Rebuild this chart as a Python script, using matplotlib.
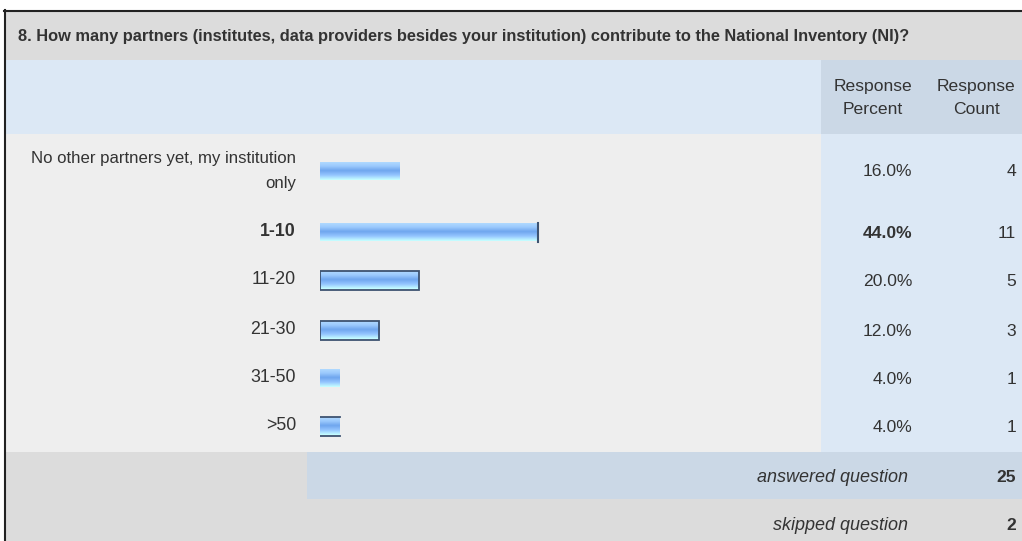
import numpy as np
import matplotlib
matplotlib.use("Agg")
import matplotlib.pyplot as plt
from matplotlib.patches import Rectangle
from matplotlib.colors import LinearSegmentedColormap

plt.rcParams['font.family'] = ['Liberation Sans', 'DejaVu Sans']

title = "8. How many partners (institutes, data providers besides your institution) contribute to the National Inventory (NI)?"
answers = ["No other partners yet, my institution\nonly", "1-10", "11-20", "21-30", "31-50", ">50"]
percents = [16.0, 44.0, 20.0, 12.0, 4.0, 4.0]
counts = [4, 11, 5, 3, 1, 1]
answered = 25
skipped = 2

W, H = 1022, 541
fig = plt.figure(figsize=(W / 100, H / 100), dpi=100)
fig.patch.set_facecolor('white')
ax = fig.add_axes([0, 0, 1, 1])
ax.set_xlim(0, W)
ax.set_ylim(H, 0)
ax.axis('off')

txt = '#333333'
grey = '#dcdcdc'
light = '#dce8f5'
mid = '#cbd8e6'
body = '#eeeeee'

def box(x0, y0, x1, y1, c):
    ax.add_patch(Rectangle((x0, y0), x1 - x0, y1 - y0, facecolor=c, edgecolor='none', zorder=0))

# backgrounds
box(5, 11, W, 60, grey)
box(5, 60, 821, 134, light)
box(821, 60, W, 134, mid)
box(5, 134, 821, 452, body)
box(821, 134, W, 452, light)
box(5, 452, 307, 499, grey)
box(307, 452, W, 499, mid)
box(5, 499, W, H, grey)
ax.plot([4, W], [10.5, 10.5], color='#222222', lw=1.5, zorder=3)
ax.plot([4.5, 4.5], [10, H], color='#222222', lw=1.5, zorder=3)

ax.text(18, 36, title, fontsize=11.8, fontweight='bold', color=txt, va='center', ha='left')
ax.text(873, 98, "Response\nPercent", fontsize=12.6, color=txt, ha='center', va='center', linespacing=1.62)
ax.text(976, 98, "Response\nCount", fontsize=12.6, color=txt, ha='center', va='center', linespacing=1.62)

row_y = [171, 232, 280, 330, 378, 426]
for i, (a, p, c, y) in enumerate(zip(answers, percents, counts, row_y)):
    w = 'bold' if i == 1 else 'normal'
    fs = 12.1 if i == 0 else 12.8
    ax.text(296, y, a, fontsize=fs, color=txt, ha='right', va='center', fontweight=w, linespacing=1.8)
    ax.text(912, y + 1, f"{p:.1f}%", fontsize=12.6, color=txt, ha='right', va='center', fontweight=w)
    ax.text(1016, y + 1, str(c), fontsize=12.6, color=txt, ha='right', va='center')

ax.text(908, 477, "answered question", fontsize=13, style='italic', color=txt, ha='right', va='center')
ax.text(1016, 477, str(answered), fontsize=12.6, fontweight='bold', color=txt, ha='right', va='center')
ax.text(908, 525, "skipped question", fontsize=13, style='italic', color=txt, ha='right', va='center')
ax.text(1016, 525, str(skipped), fontsize=12.6, fontweight='bold', color=txt, ha='right', va='center')

# bars
bx = fig.add_axes([320 / W, (H - 452) / H, 495 / W, (452 - 134) / H])
bx.set_xlim(0, 100)
bx.set_ylim(452, 134)
bx.axis('off')
cmap = LinearSegmentedColormap.from_list('g', ['#b4dcff', '#9ccafd', '#6fa6ee', '#95c6ff', '#c6ffff'])
grad = np.linspace(0, 1, 40).reshape(-1, 1)
bars = bx.barh(row_y, percents, height=19, left=0, color='none', edgecolor='none')
for i, b in enumerate(bars):
    x0, y0, bw, bh = b.get_x(), b.get_y(), b.get_width(), b.get_height()
    im = bx.imshow(grad, cmap=cmap, aspect='auto', extent=(x0, x0 + bw, y0 + bh, y0), zorder=2)
    im.set_clip_path(b)
    ec = '#3d5270'
    if i in (2, 3):
        bx.add_patch(Rectangle((x0, y0), bw, bh, facecolor='none', edgecolor=ec, lw=1.3, zorder=3))
    elif i == 1:
        bx.plot([x0 + bw, x0 + bw], [y0, y0 + bh], color=ec, lw=1.5, zorder=3)
    elif i == 5:
        bx.plot([x0, x0 + bw], [y0, y0], color=ec, lw=1.3, zorder=3)
        bx.plot([x0, x0 + bw], [y0 + bh, y0 + bh], color=ec, lw=1.3, zorder=3)

fig.savefig('out.png', dpi=100)
